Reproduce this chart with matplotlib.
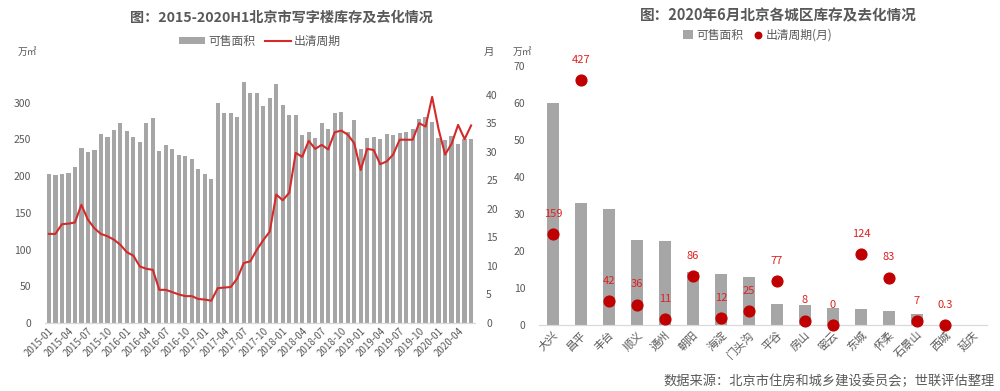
import matplotlib.pyplot as plt
import numpy as np

plt.rcParams['font.family'] = ['Noto Sans CJK SC', 'DejaVu Sans']

# 左图：2015-01 ~ 2020-06 月度数据
months = [f"{y}-{m:02d}" for y in range(2015, 2021) for m in range(1, 13)][:66]
area = [203, 201, 203, 204, 212, 238, 233, 235, 257, 254, 263, 272,
        261, 254, 247, 273, 279, 234, 242, 237, 229, 227, 224, 210,
        203, 196, 300, 286, 286, 281, 328, 313, 313, 296, 306, 326,
        297, 284, 283, 256, 260, 252, 272, 264, 286, 288, 260, 276,
        237, 252, 254, 250, 257, 256, 259, 260, 264, 278, 280, 274,
        252, 249, 255, 244, 251, 250]
period = [15.6, 15.6, 17.3, 17.4, 17.6, 20.7, 18.1, 16.6, 15.6, 15.2, 14.6, 13.7,
          12.4, 11.8, 9.9, 9.5, 9.3, 5.8, 5.8, 5.4, 5.0, 4.7, 4.7, 4.2,
          4.1, 3.9, 6.1, 6.2, 6.3, 7.8, 10.5, 10.8, 12.8, 14.5, 16.0, 22.5,
          21.5, 22.8, 29.8, 29.1, 31.9, 30.5, 31.2, 30.4, 33.4, 33.7, 33.0, 31.5,
          26.8, 30.5, 30.3, 27.8, 28.3, 29.5, 32.1, 32.1, 32.1, 35.0, 34.4, 39.6,
          33.9, 29.5, 31.4, 34.7, 32.2, 34.6]

# 右图：2020年6月各城区
districts = ['大兴', '昌平', '丰台', '顺义', '通州', '朝阳', '海淀', '门头沟',
             '平谷', '房山', '密云', '东城', '怀柔', '石景山', '西城', '延庆']
d_area = [60, 33, 31.3, 23, 22.8, 14.5, 13.8, 13.1, 5.7, 5.5, 4.8, 4.3, 3.9, 3.0, 0, 0]
d_period = [159, 427, 42, 36, 11, 86, 12, 25, 77, 8, 0, 124, 83, 7, 0.3, None]

grey = '#A6A6A6'
txt = '#595959'
red_line = '#D42A2A'
red_dot = '#C00000'

fig = plt.figure(figsize=(10, 3.91), dpi=100)

# ---------- 左图 ----------
ax1 = fig.add_axes([0.045, 0.174, 0.43, 0.657])
x = np.arange(len(months))
b1 = ax1.bar(x, area, width=0.66, color=grey)
ax1.set_xlim(-0.6, len(months) - 0.4)
ax1.set_ylim(0, 350)
ax1.set_yticks(range(0, 301, 50))
ax1.set_xticks(x[::3])
ax1.set_xticklabels(months[::3], rotation=45, ha='right', rotation_mode='anchor')
ax2 = ax1.twinx()
l1, = ax2.plot(x, period, color=red_line, lw=1.5)
ax2.set_ylim(0, 45)
ax2.set_yticks(range(0, 41, 5))
for a in (ax1, ax2):
    for s in ['top', 'left', 'right']:
        a.spines[s].set_visible(False)
    a.spines['bottom'].set_color('#D9D9D9')
    a.tick_params(length=0, colors=txt, labelsize=7.5)
ax1.tick_params(axis='x', labelsize=7, pad=2)
ax1.tick_params(axis='y', pad=10)
ax2.tick_params(axis='y', pad=8)

fig.text(0.281, 0.955, '图：2015-2020H1北京市写字楼库存及去化情况', ha='center', va='center',
         fontsize=10.2, fontweight='bold', color=txt)
fig.legend([b1, l1], ['可售面积', '出清周期'], loc='center', bbox_to_anchor=(0.26, 0.895),
           ncol=2, frameon=False, fontsize=8.5, handlelength=2.2, handleheight=0.6,
           columnspacing=0.8, handletextpad=0.3, labelcolor=txt)
fig.text(0.018, 0.867, '万㎡', fontsize=7, color=txt, va='center')
fig.text(0.484, 0.867, '月', fontsize=7.5, color=txt, va='center')

# ---------- 右图 ----------
ax3 = fig.add_axes([0.539, 0.168, 0.448, 0.664])
xd = np.arange(len(districts))
b2 = ax3.bar(xd, d_area, width=0.43, color=grey)
ax3.set_xlim(-0.5, len(districts) - 0.5)
ax3.set_ylim(0, 70)
ax3.set_yticks(range(0, 71, 10))
ax3.set_xticks(xd)
ax3.set_xticklabels(districts, rotation=45, ha='right', rotation_mode='anchor')
ax4 = ax3.twinx()
ax4.set_ylim(0, 452)
px = [i for i, v in enumerate(d_period) if v is not None]
py = [d_period[i] for i in px]
sc = ax4.scatter(px, py, s=60, color=red_dot, zorder=3, clip_on=False)
for i, v in zip(px, py):
    ax4.annotate(f'{v:g}', (i, v), xytext=(0, 11), textcoords='offset points',
                 ha='center', va='bottom', fontsize=8, color='#E02020')
ax4.set_yticks([])
for a in (ax3, ax4):
    for s in ['top', 'left', 'right']:
        a.spines[s].set_visible(False)
    a.spines['bottom'].set_color('#D9D9D9')
    a.tick_params(length=0, colors=txt, labelsize=7.5)
ax3.tick_params(axis='x', labelsize=8, pad=3)
ax3.tick_params(axis='y', pad=10)

fig.text(0.778, 0.962, '图：2020年6月北京各城区库存及去化情况', ha='center', va='center',
         fontsize=10.5, fontweight='bold', color=txt)
fig.legend([b2, sc], ['可售面积', '出清周期(月)'], loc='center', bbox_to_anchor=(0.758, 0.91),
           ncol=2, frameon=False, fontsize=8.5, handlelength=0.8, handleheight=0.8,
           columnspacing=0.8, handletextpad=0.3, labelcolor=txt, markerscale=0.6)
fig.text(0.513, 0.867, '万㎡', fontsize=7, color=txt, va='center')

fig.text(0.995, 0.025, '数据来源：北京市住房和城乡建设委员会；世联评估整理', ha='right', va='center',
         fontsize=9.5, color=txt)

fig.savefig('out.png', dpi=100)
